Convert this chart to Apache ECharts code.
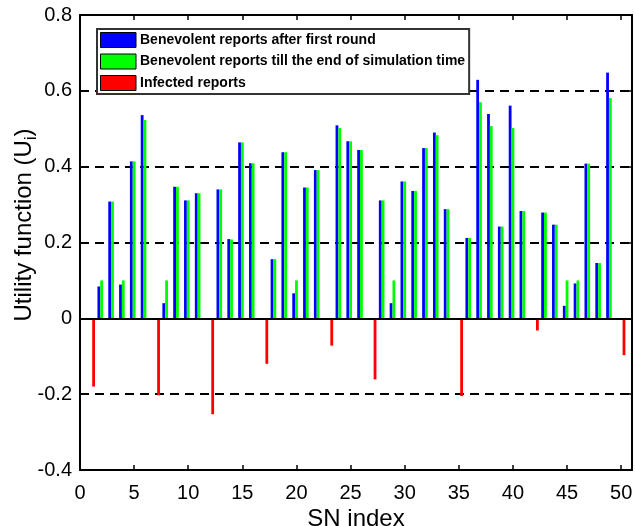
<!DOCTYPE html>
<html>
<head>
<meta charset="utf-8">
<script src="https://cdn.jsdelivr.net/npm/echarts@6/dist/echarts.min.js"></script>
<style>
html,body{margin:0;padding:0;background:#fff;}
#c{width:635px;height:526px;}
</style>
</head>
<body>
<div id="c"></div>
<script>
// SN indices of benevolent sensor nodes
const benevolentIdx = [2,3,4,5,6,8,9,10,11,13,14,15,16,18,19,20,21,22,24,25,26,28,29,30,31,32,33,34,36,37,38,39,40,41,43,44,45,46,47,48,49];
// Benevolent reports after first round
const firstRound = [0.084,0.308,0.089,0.414,0.536,0.040,0.347,0.311,0.330,0.340,0.209,0.464,0.409,0.156,0.438,0.066,0.345,0.391,0.509,0.467,0.444,0.311,0.040,0.361,0.336,0.449,0.490,0.288,0.212,0.629,0.539,0.242,0.561,0.283,0.279,0.247,0.033,0.092,0.408,0.146,0.648];
// Benevolent reports till the end of simulation time
const endOfSim = [0.100,0.308,0.100,0.414,0.523,0.100,0.347,0.311,0.330,0.340,0.208,0.464,0.409,0.156,0.438,0.100,0.345,0.391,0.502,0.467,0.444,0.311,0.100,0.361,0.336,0.449,0.483,0.288,0.212,0.570,0.507,0.242,0.502,0.283,0.279,0.247,0.100,0.100,0.408,0.146,0.581];
// Infected reports
const infectedIdx = [1,7,12,17,23,27,35,42,50];
const infected = [-0.180,-0.203,-0.253,-0.120,-0.072,-0.161,-0.205,-0.032,-0.097];
// Tick labels
const xTicks = [0,5,10,15,20,25,30,35,40,45,50];
const yTicks = [-0.4,-0.2,0,0.2,0.4,0.6,0.8];
const seriesNames = ['Benevolent reports after first round','Benevolent reports till the end of simulation time','Infected reports'];

const FONT = "'Liberation Sans', Arial, Helvetica, sans-serif";
const chart = echarts.init(document.getElementById('c'), null, {renderer:'canvas'});
const BW = 2.8;
const axisLineStyle = {color:'#000', width:2};
function barSeries(name, idx, vals, color, withZero){
  const s = {
    name: name, type:'bar', xAxisIndex:0, yAxisIndex:0,
    data: idx.map((x,k)=>[x, vals[k]]),
    barWidth: BW, barGap: '0%',
    itemStyle:{color: color},
    emphasis:{disabled:true},
    z: 2
  };
  if (withZero) {
    s.markLine = {symbol:'none', silent:true, label:{show:false}, animation:false,
      lineStyle:{color:'#000', width:2, type:'solid'}, data:[{yAxis:0}]};
  }
  return s;
}
chart.setOption({
  animation:false,
  textStyle:{fontFamily:FONT},
  grid:{left:80, right:3, top:15, bottom:56, containLabel:false, outerBoundsMode:'none'},
  legend:{
    orient:'vertical', left:97, top:29,
    padding:[3,4,3,3],
    itemWidth:35.5, itemHeight:15, itemGap:5.5,
    icon:'rect',
    backgroundColor:'#fff', borderColor:'#333', borderWidth:2,
    itemStyle:{borderColor:'#000', borderWidth:1},
    textStyle:{fontFamily:FONT, fontWeight:'bold', fontSize:14, color:'#000', lineHeight:15, padding:[0,0,0,-1]},
    data: seriesNames,
    z: 10
  },
  xAxis:[{
    type:'value', min:0, max:51, interval:5, position:'bottom',
    name:'SN index', nameLocation:'middle', nameGap:37, nameMoveOverlap:false,
    nameTextStyle:{fontFamily:FONT, fontSize:24, color:'#000'},
    axisLine:{show:true, onZero:false, lineStyle:axisLineStyle},
    axisTick:{show:true, inside:true, length:5, lineStyle:{color:'#000', width:1.5}, customValues:xTicks},
    axisLabel:{fontFamily:FONT, fontSize:20, color:'#000', margin:13, customValues:xTicks},
    splitLine:{show:false}
  },{
    type:'value', min:0, max:51, interval:5, position:'top',
    axisLine:{show:true, onZero:false, lineStyle:axisLineStyle},
    axisTick:{show:true, inside:true, length:5, lineStyle:{color:'#000', width:1.5}, customValues:xTicks},
    axisLabel:{show:false},
    splitLine:{show:false}
  }],
  yAxis:[{
    type:'value', min:-0.4, max:0.8, interval:0.2, position:'left',
    name:'{t|Utility function (U}{s|i}{t|)}', nameLocation:'middle', nameGap:40, nameMoveOverlap:false,
    nameTextStyle:{fontFamily:FONT, fontSize:24, color:'#000', padding:[0,0,0,35],
      rich:{t:{fontFamily:FONT, fontSize:24, lineHeight:32, color:'#000'},
            s:{fontFamily:FONT, fontSize:16, lineHeight:16, verticalAlign:'bottom', color:'#000'}}},
    axisLine:{show:true, onZero:false, lineStyle:axisLineStyle},
    axisTick:{show:true, inside:true, length:5, lineStyle:{color:'#000', width:1.5}, customValues:yTicks},
    axisLabel:{fontFamily:FONT, fontSize:20, color:'#000', margin:8, customValues:yTicks,
      formatter:(v)=>String(Math.round(v*10)/10)},
    splitLine:{show:true, lineStyle:{color:'#000', width:2, type:[9,6]}}
  },{
    type:'value', min:-0.4, max:0.8, interval:0.2, position:'right',
    axisLine:{show:true, onZero:false, lineStyle:axisLineStyle},
    axisTick:{show:true, inside:true, length:5, lineStyle:{color:'#000', width:1.5}, customValues:yTicks},
    axisLabel:{show:false},
    splitLine:{show:false}
  }],
  series:[
    barSeries(seriesNames[0], benevolentIdx, firstRound, '#0000ff', false),
    barSeries(seriesNames[1], benevolentIdx, endOfSim, '#00ff00', false),
    barSeries(seriesNames[2], infectedIdx, infected, '#ff0000', true)
  ]
});
</script>
</body>
</html>
